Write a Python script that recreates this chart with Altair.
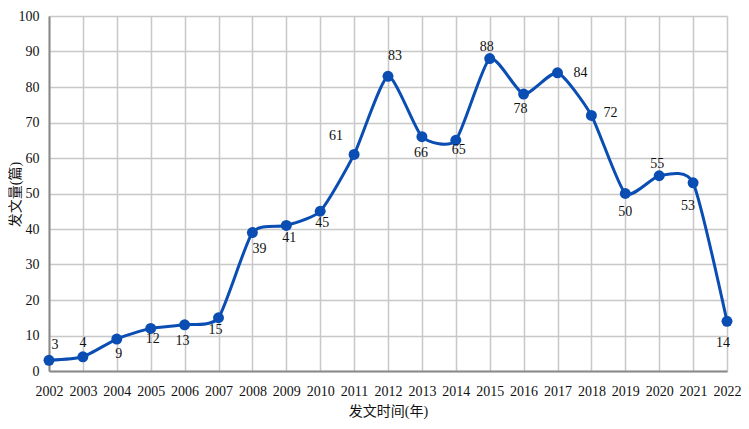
import altair as alt
import pandas as pd

years = list(range(2002, 2023))
counts = [3, 4, 9, 12, 13, 15, 39, 41, 45, 61, 83, 66, 65, 88, 78, 84, 72, 50, 55, 53, 14]
# label placement (pixels relative to the point)
label_dx = [6, 0, 2, 2, -2, -3, 7, 3, 2, -18, 7, -1, 3, -3, -3, 23, 19, 0, -2, -5, -4]
label_dy = [-15, -14, 15, 11, 16, 12, 16, 13, 12, -18, -20, 16, 10, -12, 15, 0, -2, 18, -12, 23, 22]

df = pd.DataFrame({"year": years, "count": counts, "dx": label_dx, "dy": label_dy})

FONT = "Liberation Serif, Noto Sans CJK SC"
BLUE = "#0a4db3"

x = alt.X("year:Q", scale=alt.Scale(domain=[2002, 2022], nice=False, zero=False),
          axis=alt.Axis(title="发文时间(年)", values=years, format="d", grid=True,
                        labelOverlap=False, labelFlush=False))
y = alt.Y("count:Q", scale=alt.Scale(domain=[0, 100], nice=False),
          axis=alt.Axis(title="发文量(篇)", values=list(range(0, 101, 10)), grid=True,
                        titleX=-34, titleY=178, titleAngle=270, titleAlign="center",
                        titleBaseline="middle"))

base = alt.Chart(df).encode(x=x, y=y)

line = base.mark_line(interpolate="cardinal", tension=0.4, color=BLUE, strokeWidth=3)
pts = base.mark_circle(size=120, color=BLUE, opacity=1)
labels = base.mark_text(font=FONT, fontSize=14, color="#111", align="center", baseline="middle",
                        dx=alt.ExprRef("datum.dx"), dy=alt.ExprRef("datum.dy")).encode(
    text="count:Q",
)

chart = (line + pts + labels).properties(
    width=678, height=355,
    autosize=alt.AutoSizeParams(type="none"),
    padding={"left": 41, "top": 8, "right": 14, "bottom": 50},
).configure_view(stroke=None).configure_axis(
    labelFont=FONT, titleFont=FONT, labelFontSize=14, titleFontSize=14,
    labelColor="#111", titleColor="#111", titleFontWeight="normal",
    gridColor="#c8c8c8", gridWidth=1.5, domainColor="#8a8a8a", domainWidth=2,
    ticks=False,
).configure_axisX(labelPadding=13, titlePadding=6, labelAngle=0) \
 .configure_axisY(labelPadding=10)

chart.save("out.html", embed_options={"renderer": "svg", "actions": False})
